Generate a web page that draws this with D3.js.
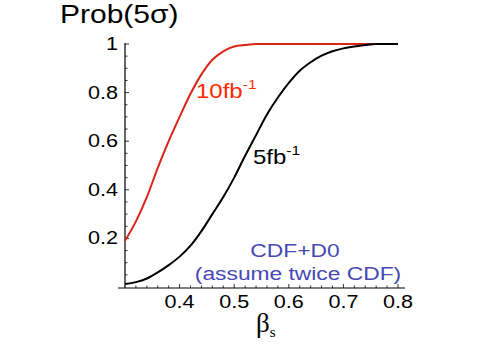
<!DOCTYPE html>
<html><head><meta charset="utf-8">
<script src="https://cdn.jsdelivr.net/npm/d3@7"></script>
<style>body{margin:0;background:#fff}svg{display:block}</style>
</head><body>
<svg id="c" width="499" height="349"></svg>
<script>
const beta = [0.30,0.32,0.34,0.36,0.38,0.40,0.42,0.44,0.46,0.48,0.50,0.52,0.54,0.56,0.58,0.60,0.62,0.64,0.66,0.68,0.70,0.72,0.74,0.76,0.78,0.80];
const prob10fb = [0.19,0.27,0.37,0.49,0.60,0.70,0.795,0.875,0.935,0.97,0.99,0.996,1.0,1.0,1.0,1.0,1.0,1.0,1.0,1.0,1.0,1.0,1.0,1.0,1.0,1.0];
const prob5fb = [0.012,0.02,0.035,0.06,0.09,0.125,0.17,0.23,0.30,0.37,0.45,0.54,0.625,0.71,0.78,0.84,0.89,0.925,0.952,0.97,0.982,0.99,0.996,1.0,1.0,1.0];
const xTicks = [0.4,0.5,0.6,0.7,0.8];
const yTicks = [0.2,0.4,0.6,0.8,1];
const yTickLabels = ["0.2","0.4","0.6","0.8","1"];

const svg = d3.select("#c");
const x = d3.scaleLinear().domain([0.3,0.8]).range([125,398]);
const y = d3.scaleLinear().domain([0,1]).range([287,44]);
const SX = 1.2;

svg.append("line").attr("x1",118).attr("x2",405).attr("y1",y(0)+1).attr("y2",y(0)+1).attr("stroke","#000").attr("stroke-width",1.2);
svg.append("line").attr("x1",x(0.3)).attr("x2",x(0.3)).attr("y1",y(1)-1).attr("y2",y(0)+1).attr("stroke","#000").attr("stroke-width",1.2);

const xMinor = d3.range(0.32,0.801,0.02);
svg.selectAll(".xt").data(xMinor).join("line")
  .attr("x1",d=>x(d)).attr("x2",d=>x(d))
  .attr("y1",y(0)+1).attr("y2",d=>y(0)+1-(Math.abs(d*10-Math.round(d*10))<1e-6?4:2.5))
  .attr("stroke","#000").attr("stroke-width",0.8);
const yMinor = d3.range(0.05,1.001,0.05);
svg.selectAll(".yt").data(yMinor).join("line")
  .attr("y1",d=>y(d)).attr("y2",d=>y(d))
  .attr("x1",x(0.3)).attr("x2",d=>x(0.3)+(Math.abs(d*5-Math.round(d*5))<1e-6?4:2.5))
  .attr("stroke","#000").attr("stroke-width",0.8);

function stext(tx,ty,txt,size,color,anchor,family){
  const g = svg.append("g").attr("transform",`translate(${tx},${ty}) scale(${SX},1)`);
  return g.append("text").attr("font-family",family||"Liberation Sans, Arial, sans-serif")
    .attr("font-size",size).attr("fill",color).attr("text-anchor",anchor||"start").text(txt);
}

xTicks.forEach(t=>stext(x(t),308,d3.format(".1f")(t),18,"#000","middle"));
yTicks.forEach((t,i)=>stext(118,y(t)+6,yTickLabels[i],18,"#000","end"));

stext(60,23,"Prob(5σ)",25,"#000","start");

const gb = svg.append("g").attr("transform","translate(256,332)");
const tb = gb.append("text").attr("font-family","Liberation Serif, Times New Roman, serif").attr("font-size",27).attr("fill","#000");
tb.append("tspan").text("β");
tb.append("tspan").attr("font-size",15).attr("dy",5).text("s");

const line = d3.line().x((d,i)=>x(beta[i])).y(d=>y(d)).curve(d3.curveMonotoneX);
svg.append("path").attr("d",line(prob10fb)).attr("fill","none").attr("stroke","#dc2418").attr("stroke-width",2);
svg.append("path").attr("d",line(prob5fb)).attr("fill","none").attr("stroke","#000").attr("stroke-width",2);

const t10 = stext(196,98,"10fb",20,"#ff2a00","start");
t10.append("tspan").attr("font-size",13).attr("dy",-9).text("-1");
const t5 = stext(253,164,"5fb",20,"#000","start");
t5.append("tspan").attr("font-size",13).attr("dy",-9).text("-1");

stext(295,257,"CDF+D0",19,"#4747b5","middle");
stext(298,280,"(assume twice CDF)",19,"#4747b5","middle");
</script>
</body></html>
